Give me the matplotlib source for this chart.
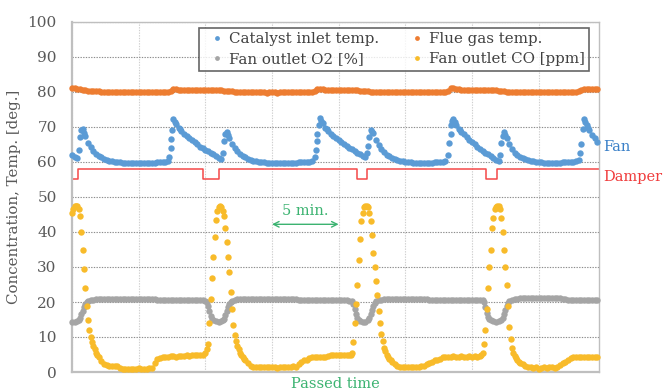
import numpy as np
import matplotlib
matplotlib.use("Agg")
import matplotlib.pyplot as plt
import matplotlib.transforms as mtransforms

plt.rcParams['font.family'] = ['DejaVu Serif']

# ---------------- data ----------------
STEP_MIN = 0.2  # sampling interval of the logged series [min]

catalyst_inlet = [
    62.0, 61.5, 61.2, 67.0, 69.3, 67.5, 65.5, 64.2, 63.2, 62.4,
    61.8, 61.3, 60.9, 60.6, 60.4, 60.2, 60.1, 60.0, 59.9, 59.8,
    59.8, 59.7, 59.7, 59.7, 59.7, 59.7, 59.7, 59.7, 59.8, 59.8,
    59.8, 59.8, 59.9, 59.9, 60.0, 60.0, 60.2, 64.0, 72.2, 70.8,
    69.8, 68.8, 68.0, 67.4, 66.8, 66.2, 65.6, 65.0, 64.4, 63.9,
    63.4, 63.0, 62.6, 62.2, 61.7, 61.2, 60.8, 66.0, 68.6, 66.8,
    65.2, 64.0, 63.0, 62.3, 61.8, 61.3, 60.9, 60.6, 60.4, 60.2,
    60.1, 60.0, 59.9, 59.8, 59.7, 59.7, 59.7, 59.7, 59.7, 59.7,
    59.7, 59.7, 59.8, 59.8, 59.8, 59.9, 59.9, 60.0, 60.0, 60.1,
    60.2, 61.5, 68.0, 72.6, 71.0, 69.8, 68.8, 68.1, 67.5, 66.9,
    66.3, 65.7, 65.1, 64.6, 64.1, 63.6, 63.1, 62.7, 62.2, 61.8,
    61.5, 64.5, 69.0, 68.2, 66.3, 64.8, 63.6, 62.8, 62.1, 61.6,
    61.2, 60.9, 60.6, 60.4, 60.2, 60.1, 60.0, 59.9, 59.8, 59.8,
    59.7, 59.7, 59.7, 59.8, 59.8, 59.8, 59.9, 59.9, 60.0, 60.1,
    60.3, 62.0, 70.5, 72.2, 70.7, 69.5, 68.7, 68.0, 67.2, 66.4,
    65.7, 65.0, 64.4, 63.8, 63.2, 62.7, 62.2, 61.7, 61.2, 60.6,
    60.2, 65.5, 68.7, 66.8, 65.0, 63.6, 62.6, 61.9, 61.4, 61.0,
    60.8, 60.6, 60.4, 60.2, 60.1, 60.0, 59.9, 59.8, 59.8, 59.8,
    59.8, 59.8, 59.8, 59.8, 59.9, 59.9, 60.0, 60.0, 60.1, 60.2,
    60.6, 65.0, 72.3, 70.5, 69.0, 67.8, 66.8, 65.8,
]
# extra samples read in the fast-changing parts (time [min], value)
catalyst_extra_t = [0.5, 0.7, 0.9, 7.3, 7.4, 7.5, 7.7, 8.1,
                    11.3, 11.5, 11.7, 18.3, 18.4, 18.5, 18.7, 19.1,
                    22.1, 22.3, 22.5, 28.3, 28.4, 28.5, 28.7, 29.1,
                    32.1, 32.3, 32.5, 38.1, 38.3, 38.5, 38.7]
catalyst_extra = [63.5, 69.0, 68.3, 61.5, 66.5, 69.0, 71.5, 69.3,
                  62.5, 68.0, 67.7, 63.5, 66.0, 70.5, 71.8, 69.3,
                  62.5, 67.0, 68.7, 65.5, 68.0, 71.8, 71.5, 69.1,
                  62.0, 67.5, 67.8, 62.5, 69.5, 71.5, 69.8]

flue_gas = [
    81.0, 81.0, 80.9, 80.8, 80.6, 80.5, 80.4, 80.3, 80.3, 80.2,
    80.2, 80.1, 80.1, 80.0, 80.0, 80.0, 79.9, 79.9, 79.9, 79.9,
    79.9, 79.9, 79.9, 79.9, 80.0, 80.0, 80.0, 80.0, 80.0, 80.0,
    80.0, 80.0, 80.1, 80.1, 80.1, 80.1, 80.1, 80.4, 80.9, 80.8,
    80.7, 80.7, 80.6, 80.6, 80.6, 80.6, 80.6, 80.6, 80.6, 80.5,
    80.5, 80.5, 80.5, 80.5, 80.5, 80.5, 80.5, 80.4, 80.4, 80.3,
    80.2, 80.1, 80.0, 80.0, 79.9, 79.9, 79.9, 79.9, 79.9, 79.9,
    79.9, 79.9, 79.9, 79.8, 79.9, 79.9, 79.9, 79.8, 79.9, 79.9,
    79.9, 79.9, 80.0, 80.0, 80.0, 80.0, 80.0, 80.0, 80.0, 80.1,
    80.1, 80.3, 80.8, 80.9, 80.8, 80.7, 80.7, 80.6, 80.6, 80.6,
    80.6, 80.6, 80.6, 80.6, 80.5, 80.5, 80.5, 80.5, 80.4, 80.4,
    80.3, 80.2, 80.1, 80.0, 80.0, 79.9, 79.9, 79.9, 79.9, 79.9,
    79.9, 79.9, 79.9, 79.9, 79.9, 79.9, 79.9, 79.9, 79.9, 79.9,
    79.9, 79.9, 80.0, 80.0, 80.0, 80.0, 80.0, 80.0, 80.0, 80.0,
    80.1, 80.4, 81.0, 81.1, 80.9, 80.8, 80.7, 80.7, 80.6, 80.6,
    80.6, 80.6, 80.6, 80.5, 80.5, 80.5, 80.5, 80.5, 80.5, 80.5,
    80.4, 80.3, 80.2, 80.1, 80.0, 80.0, 80.0, 79.9, 79.9, 79.9,
    79.9, 79.9, 79.9, 79.9, 79.9, 79.9, 79.9, 79.9, 79.9, 79.9,
    79.9, 79.9, 80.0, 80.0, 80.0, 80.0, 80.0, 80.0, 80.0, 80.1,
    80.2, 80.5, 80.9, 80.9, 80.8, 80.8, 80.8, 80.8,
]

fan_o2 = [
    14.3, 14.4, 14.6, 15.5, 17.5, 19.3, 20.2, 20.5, 20.7, 20.8,
    20.9, 20.9, 21.0, 21.0, 21.0, 21.0, 21.0, 21.0, 21.0, 21.0,
    21.0, 21.0, 21.0, 21.0, 21.0, 21.0, 21.0, 21.0, 21.0, 21.0,
    21.0, 20.8, 20.6, 20.5, 20.5, 20.5, 20.5, 20.5, 20.5, 20.5,
    20.5, 20.5, 20.5, 20.5, 20.5, 20.5, 20.5, 20.5, 20.5, 20.5,
    20.4, 19.0, 16.0, 14.8, 14.5, 14.4, 14.6, 15.2, 17.5, 19.5,
    20.3, 20.6, 20.8, 20.9, 21.0, 21.0, 21.0, 21.0, 21.0, 21.0,
    21.0, 21.0, 21.0, 21.0, 21.0, 21.0, 21.0, 21.0, 21.0, 21.0,
    21.0, 21.0, 21.0, 21.0, 20.8, 20.6, 20.5, 20.5, 20.5, 20.5,
    20.5, 20.5, 20.5, 20.5, 20.5, 20.5, 20.5, 20.5, 20.5, 20.5,
    20.5, 20.5, 20.5, 20.5, 20.4, 20.3, 18.0, 15.5, 14.7, 14.4,
    14.4, 14.8, 16.5, 18.8, 20.2, 20.5, 20.7, 20.8, 20.9, 21.0,
    21.0, 21.0, 21.0, 21.0, 21.0, 21.0, 21.0, 21.0, 21.0, 21.0,
    21.0, 21.0, 20.9, 20.8, 20.7, 20.6, 20.6, 20.6, 20.6, 20.6,
    20.6, 20.6, 20.6, 20.6, 20.6, 20.6, 20.6, 20.6, 20.6, 20.6,
    20.6, 20.6, 20.6, 20.6, 20.6, 18.5, 15.8, 14.8, 14.5, 14.4,
    14.5, 14.9, 16.5, 18.8, 20.3, 20.7, 20.9, 21.0, 21.1, 21.1,
    21.1, 21.1, 21.1, 21.1, 21.1, 21.1, 21.1, 21.1, 21.1, 21.1,
    21.1, 21.1, 21.1, 21.1, 21.0, 20.8, 20.7, 20.6, 20.6, 20.6,
    20.6, 20.6, 20.6, 20.6, 20.6, 20.6, 20.6, 20.6,
]
o2_extra_t = [0.5, 0.7, 0.9, 1.1, 10.1, 10.3, 10.5, 11.3, 11.5, 11.7, 11.9,
              21.1, 21.3, 21.5, 22.3, 22.5, 22.7, 30.9, 31.1, 31.3,
              32.3, 32.5, 32.7]
o2_extra = [14.9, 16.5, 18.5, 19.9, 20.0, 17.5, 15.2, 14.8, 16.2, 18.7, 19.9,
            19.5, 16.5, 15.0, 15.5, 17.7, 19.6, 20.0, 17.0, 15.2,
            15.5, 17.7, 19.6]

fan_co = [
    45.5, 47.5, 47.5, 44.5, 35.0, 24.0, 15.0, 10.0, 7.5, 5.5,
    4.2, 3.2, 2.4, 2.0, 1.8, 1.8, 1.7, 1.6, 1.2, 1.0,
    1.0, 1.0, 0.8, 1.0, 1.0, 1.1, 1.0, 0.9, 1.0, 1.1,
    1.2, 2.5, 3.8, 4.0, 4.2, 4.3, 4.3, 4.5, 4.6, 4.4,
    4.6, 4.7, 4.5, 4.8, 4.7, 4.8, 4.9, 4.8, 4.9, 5.0,
    5.5, 8.0, 21.0, 33.0, 43.5, 47.2, 47.2, 44.5, 37.0, 28.5,
    18.0, 10.5, 7.5, 5.5, 4.3, 3.3, 2.5, 1.8, 1.5, 1.5,
    1.5, 1.4, 1.5, 1.3, 1.5, 1.4, 1.5, 1.2, 1.5, 1.4,
    1.5, 1.4, 1.5, 1.6, 1.5, 2.2, 2.8, 3.4, 3.5, 4.0,
    4.2, 4.2, 4.3, 4.2, 4.3, 4.4, 4.6, 4.8, 4.8, 4.9,
    4.9, 4.8, 4.9, 5.0, 4.9, 5.5, 14.0, 25.0, 38.0, 45.5,
    47.3, 47.0, 43.0, 34.0, 26.0, 17.5, 11.0, 7.0, 5.0, 3.8,
    3.0, 2.4, 1.6, 1.5, 1.5, 1.4, 1.5, 1.5, 1.3, 1.5,
    1.5, 1.6, 1.8, 2.2, 2.6, 3.0, 3.4, 3.5, 3.6, 4.3,
    4.4, 4.3, 4.4, 4.5, 4.4, 4.4, 4.5, 4.3, 4.4, 4.5,
    4.4, 4.5, 4.4, 4.6, 5.5, 12.0, 24.0, 35.0, 44.0, 47.2,
    47.3, 44.0, 35.0, 25.0, 13.0, 7.0, 4.6, 3.3, 2.6, 2.2,
    1.6, 1.4, 1.3, 1.2, 1.3, 1.0, 1.2, 1.3, 1.2, 1.3,
    1.3, 1.2, 1.4, 2.0, 2.6, 3.0, 3.4, 3.9, 4.2, 4.3,
    4.4, 4.4, 4.3, 4.4, 4.4, 4.4, 4.4, 4.4,
]
co_extra_t = [0.1, 0.3, 0.5, 0.7, 0.9, 1.1, 1.3, 1.5, 1.7, 1.9,
              10.1, 10.3, 10.5, 10.7, 10.9, 11.1, 11.3, 11.5, 11.7, 11.9,
              12.1, 12.3, 12.5, 12.7, 12.9,
              20.9, 21.1, 21.3, 21.5, 21.7, 21.9, 22.1, 22.3, 22.5, 22.7,
              22.9, 23.1, 23.3, 23.5, 23.7, 23.9,
              30.7, 30.9, 31.1, 31.3, 31.5, 31.7, 31.9, 32.1, 32.3, 32.5,
              32.7, 32.9, 33.1, 33.3, 33.5]
co_extra = [46.5, 47.5, 46.5, 40.0, 29.5, 19.0, 12.0, 8.5, 6.5, 4.8,
            6.5, 14.0, 27.0, 38.5, 46.0, 47.3, 46.0, 41.0, 33.0, 23.0,
            13.5, 9.0, 6.5, 4.8, 3.8,
            5.0, 8.5, 19.5, 32.0, 43.0, 47.0, 47.3, 45.5, 39.0, 30.0,
            22.0, 14.0, 9.0, 6.0, 4.3, 3.4,
            4.8, 8.0, 18.0, 30.0, 41.0, 46.5, 47.3, 46.5, 40.0, 30.0,
            19.0, 9.5, 5.5, 3.9, 2.9]

# damper signal: switching times [min] and levels (step line)
damper_time = [0.0, 0.47, 9.85, 11.05, 21.36, 22.15, 31.03, 31.9, 39.53]
damper_level = [55, 58, 55, 58, 55, 58, 55, 58, 58]

series_labels = ["Catalyst inlet temp.", "Flue gas temp.",
                 "Fan outlet O2 [%]", "Fan outlet CO [ppm]"]
y_ticks = list(range(0, 101, 10))
x_grid = [0, 5, 10, 15, 20, 25, 30, 35]
x_max = 39.53

# ---------------- figure ----------------
C_BLUE = '#5b9bd5'
C_ORANGE = '#ed7d31'
C_GREY = '#a5a5a5'
C_YELLOW = '#f8bb2a'
C_RED = '#f44848'
C_GREEN = '#3cb371'

fig = plt.figure(figsize=(6.64, 3.92), dpi=100)
ax = fig.add_axes([72/664, 20/392, 527/664, 350/392])


def samples(base, extra_t=(), extra_v=()):
    tt = np.concatenate([np.arange(len(base)) * STEP_MIN, np.asarray(extra_t, float)])
    vv = np.concatenate([np.asarray(base, float), np.asarray(extra_v, float)])
    return tt, vv


ms = 4.6
kw = dict(linestyle='none', marker='o', ms=ms, mec='none', clip_on=False)
h_cat, = ax.plot(*samples(catalyst_inlet, catalyst_extra_t, catalyst_extra), color=C_BLUE,
                 label=series_labels[0], zorder=3, **kw)
h_flue, = ax.plot(*samples(flue_gas), color=C_ORANGE, label=series_labels[1], zorder=3, **kw)
h_o2, = ax.plot(*samples(fan_o2, o2_extra_t, o2_extra), color=C_GREY,
                label=series_labels[2], zorder=3, **kw)
h_co, = ax.plot(*samples(fan_co, co_extra_t, co_extra), color=C_YELLOW,
                label=series_labels[3], zorder=4, **kw)
ax.plot(damper_time, damper_level, drawstyle='steps-post', color=C_RED, lw=1.1, zorder=2)

ax.set_xlim(0, x_max)
ax.set_ylim(0, 100)
ax.set_yticks(y_ticks)
ax.set_xticks(x_grid)
ax.set_xticklabels([])
ax.tick_params(axis='both', length=0)
ax.tick_params(axis='y', pad=11, labelsize=11, labelcolor='#595959')

ax.grid(axis='y', color='#8c8c8c', linestyle=(0, (1.2, 1.2)), lw=0.8, zorder=0)
ax.grid(axis='x', color='#cfcfcf', linestyle=(0, (1.2, 1.2)), lw=0.8, zorder=0)
for s in ['left', 'bottom']:
    ax.spines[s].set_color('#bfbfbf')
    ax.spines[s].set_linewidth(1.6)
for s in ['right', 'top']:
    ax.spines[s].set_color('#bfbfbf')
    ax.spines[s].set_linewidth(1.0)

ax.set_ylabel('Concentration, Temp. [deg.]', fontsize=10.8, color='#595959', labelpad=5)
fig.text(335.5/664, 1 - 383.5/392, 'Passed time', fontsize=10.5, color=C_GREEN,
         ha='center', va='center')

leg = ax.legend(handles=[h_cat, h_o2, h_flue, h_co], ncol=2, loc='upper left',
                bbox_to_anchor=(0.241, 0.983), fontsize=10.8, frameon=True,
                fancybox=False, markerscale=0.75, handlelength=1.8,
                handletextpad=-0.1, borderpad=0.3, labelspacing=0.4,
                columnspacing=1.6, borderaxespad=0.0)
leg.get_frame().set_edgecolor('#404040')
leg.get_frame().set_linewidth(1.2)
for txt in leg.get_texts():
    txt.set_color('#404040')

trans = mtransforms.blended_transform_factory(ax.transAxes, ax.transData)
ax.text(1.008, 64.3, 'Fan', transform=trans, color='#3a80c8', fontsize=10.5,
        va='center', ha='left', clip_on=False)
ax.text(1.008, 55.7, 'Damper', transform=trans, color='#f03c3c', fontsize=10.5,
        va='center', ha='left', clip_on=False)

ax.annotate('', xy=(15, 42.2), xytext=(20, 42.2),
            arrowprops=dict(arrowstyle='<->', color=C_GREEN, lw=1.0, shrinkA=0, shrinkB=0))
ax.text(17.5, 44.0, '5 min.', color=C_GREEN, fontsize=10.5, ha='center', va='bottom')

fig.savefig('out.png', dpi=100)
